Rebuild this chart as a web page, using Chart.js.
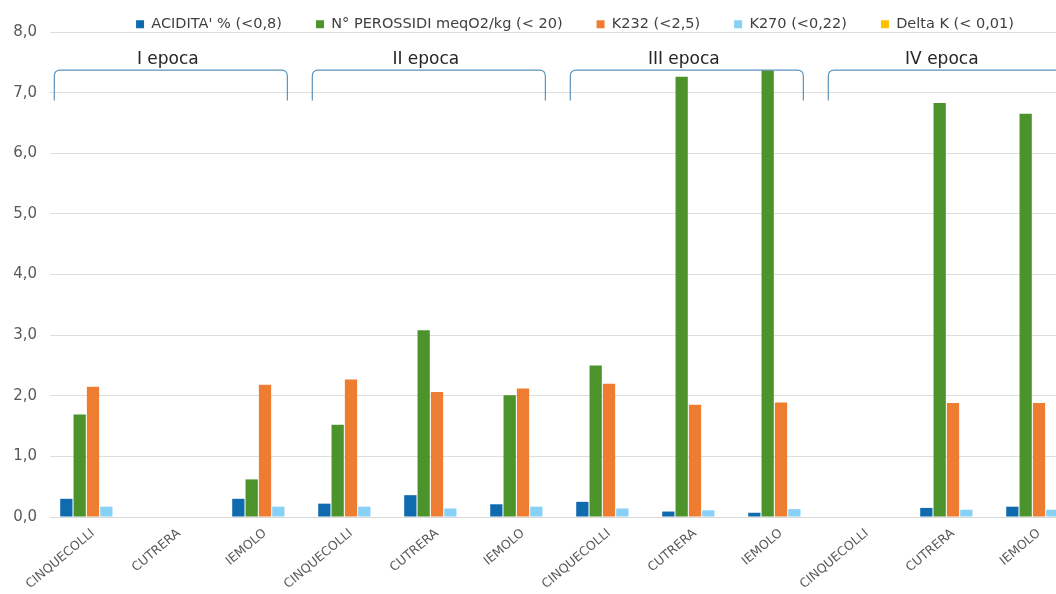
<!DOCTYPE html>
<html><head><meta charset="utf-8">
<script src="https://cdn.jsdelivr.net/npm/chart.js@4.4.0/dist/chart.umd.min.js"></script>
<style>
html,body{margin:0;padding:0;background:#fff;overflow:hidden;}
#wrap{width:1056px;height:594px;overflow:hidden;position:relative;background:#fff;}
canvas{display:block;}
</style></head><body>
<div id="wrap"><canvas id="c" width="1150" height="594"></canvas></div>
<script>
const categories = ['CINQUECOLLI','CUTRERA','IEMOLO','CINQUECOLLI','CUTRERA','IEMOLO','CINQUECOLLI','CUTRERA','IEMOLO','CINQUECOLLI','CUTRERA','IEMOLO'];
const epochs = ['I epoca','II epoca','III epoca','IV epoca'];
const seriesNames = ["ACIDITA' % (<0,8)", 'N° PEROSSIDI meqO2/kg (< 20)', 'K232 (<2,5)', 'K270 (<0,22)', 'Delta K (< 0,01)'];
const acidita   = [0.30, null, 0.30, 0.22, 0.36, 0.21, 0.25, 0.09, 0.07, null, 0.15, 0.17];
const perossidi = [1.69, null, 0.62, 1.52, 3.08, 2.01, 2.50, 7.26, 7.37, null, 6.83, 6.65];
const k232      = [2.15, null, 2.18, 2.27, 2.06, 2.12, 2.20, 1.85, 1.89, null, 1.88, 1.88];
const k270      = [0.17, null, 0.17, 0.17, 0.14, 0.17, 0.14, 0.11, 0.13, null, 0.12, 0.12];
const deltaK    = [0, null, 0, 0, 0, 0, 0, 0, 0, null, 0, 0];
const yTickLabels = ['0,0','1,0','2,0','3,0','4,0','5,0','6,0','7,0','8,0'];
const colors = ['#0f6aae', '#4b932a', '#ee7d31', '#87d0f6', '#ffc000'];

Chart.defaults.font.family = '"DejaVu Sans", Verdana, sans-serif';

const LEGEND_H = 32;
const LEGEND_TOP = -17;
const legendFix = {
  id: 'legendFix',
  afterInit(chart) {
    const lg = chart.legend;
    if (!lg) return;
    const fit = lg.fit.bind(lg);
    lg.fit = function () { fit(); this.height = LEGEND_H; };
  },
  afterLayout(chart) {
    const lg = chart.legend;
    if (!lg) return;
    lg.top = LEGEND_TOP;
    lg.height = 70;
    lg.bottom = LEGEND_TOP + 70;
  }
};

const epochPlugin = {
  id: 'epochs',
  afterDatasetsDraw(chart) {
    const { ctx, scales: { x, y } } = chart;
    const catW = x.getPixelForValue(1) - x.getPixelForValue(0);
    const yTop = y.getPixelForValue(7.37);
    const yBot = y.getPixelForValue(6.87);
    const yText = y.getPixelForValue(7.55);
    epochs.forEach((name, i) => {
      const l = x.getPixelForValue(i * 3) - 0.45 * catW;
      const r = x.getPixelForValue(i * 3 + 2) + 0.26 * catW;
      ctx.save();
      ctx.strokeStyle = '#5a93bb';
      ctx.lineWidth = 1.2;
      ctx.beginPath();
      ctx.moveTo(l, yBot);
      ctx.lineTo(l, yTop + 6);
      ctx.quadraticCurveTo(l, yTop, l + 6, yTop);
      ctx.lineTo(r - 6, yTop);
      ctx.quadraticCurveTo(r, yTop, r, yTop + 6);
      ctx.lineTo(r, yBot);
      ctx.stroke();
      ctx.fillStyle = '#262626';
      ctx.font = '17px "DejaVu Sans", Verdana, sans-serif';
      ctx.textAlign = 'center';
      ctx.textBaseline = 'middle';
      ctx.fillText(name, (l + r) / 2 - 3, yText);
      ctx.restore();
    });
  }
};

const seriesData = [acidita, perossidi, k232, k270, deltaK];

new Chart(document.getElementById('c'), {
  type: 'bar',
  data: {
    labels: categories,
    datasets: seriesNames.map((n, i) => ({
      label: n,
      data: seriesData[i],
      backgroundColor: colors[i],
      borderWidth: 0,
      categoryPercentage: 0.775,
      barPercentage: 0.92
    }))
  },
  options: {
    responsive: false,
    animation: false,
    devicePixelRatio: 1,
    layout: { padding: 0 },
    plugins: {
      legend: {
        position: 'top',
        labels: {
          boxWidth: 8, boxHeight: 8, padding: 34,
          color: '#404040',
          font: { size: 14.5 }
        }
      },
      tooltip: { enabled: false }
    },
    scales: {
      x: {
        grid: { display: false, drawTicks: false },
        border: { display: true, color: '#d9d9d9' },
        ticks: {
          color: '#595959', font: { size: 12.5 },
          minRotation: 40, maxRotation: 40, autoSkip: false, padding: 9
        },
        afterFit(s) { s.height = 77; }
      },
      y: {
        min: 0, max: 8,
        ticks: {
          stepSize: 1, color: '#595959', font: { size: 15 }, padding: 13,
          callback: (v) => yTickLabels[Math.round(v)]
        },
        grid: { color: '#dedede', drawTicks: false },
        border: { display: false },
        afterFit(s) { s.width = 50; }
      },
      y2: {
        type: 'linear', position: 'right', display: true,
        grid: { display: false, drawTicks: false },
        ticks: { display: false },
        border: { display: false },
        afterFit(s) { s.width = 68; }
      }
    }
  },
  plugins: [legendFix, epochPlugin]
});
</script>
</body></html>
